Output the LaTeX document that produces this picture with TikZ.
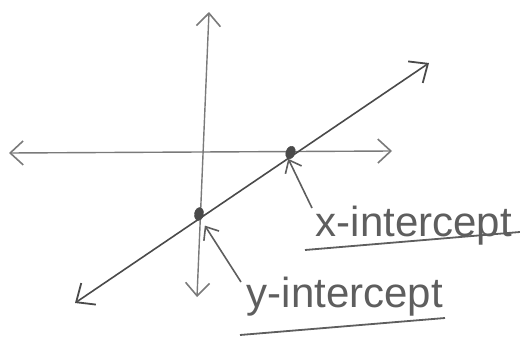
\documentclass[tikz,border=0pt]{standalone}
\usepackage{fontspec}
\setmainfont{Liberation Sans}
\usetikzlibrary{arrows.meta}
\definecolor{axisgray}{HTML}{7A7A7A}
\definecolor{linegray}{HTML}{4A4A4A}
\definecolor{inkgray}{HTML}{5E5E5E}
\tikzset{
  axisline/.style={draw=axisgray, line width=1.4pt, {Straight Barb[length=13pt,width=24pt,line width=1.6pt]}-{Straight Barb[length=13pt,width=24pt,line width=1.6pt]}},
  mainline/.style={draw=linegray, line width=1.6pt, {Straight Barb[length=15pt,width=26pt,line width=1.8pt]}-{Straight Barb[length=15pt,width=26pt,line width=1.8pt]}},
  dotmark/.style={ellipse, fill=linegray, draw=linegray, minimum width=9pt, minimum height=13pt, inner sep=0pt},
  labeltext/.style={text=inkgray, font=\fontsize{42}{46}\selectfont, inner sep=0pt},
  pointer/.style={draw=inkgray, line width=1.6pt, -{Straight Barb[length=11pt,width=18pt,line width=1.6pt]}},
  underline/.style={draw=inkgray, line width=1.8pt}
}
\usetikzlibrary{shapes.geometric}
\begin{document}
\begin{tikzpicture}[x=1pt,y=-1pt]
\useasboundingbox (0,0) rectangle (520,343);
% axis ends
\coordinate (hl) at (9,153);
\coordinate (hr) at (392,151);
\coordinate (vt) at (209,12);
\coordinate (vb) at (197,297);
\coordinate (ll) at (75,303);
\coordinate (lr) at (429,63);
\draw[axisline] (hl) -- (hr);
\draw[axisline] (vb) -- (vt);
\draw[mainline] (ll) -- (lr);
% intercept dots
\node[dotmark, rotate=-20] (xi) at (290.5,152.5) {};
\node[dotmark, rotate=-10] (yi) at (199,214) {};
% labels
\node[labeltext, anchor=base] (xl) at (414,236) {x-intercept};
\node[labeltext, anchor=base] (yl) at (345,307) {y-intercept};
\coordinate (xs) at (312,208);
\coordinate (ys) at (241,282);
\draw[pointer] (xs) -- (xi.south);
\draw[pointer] (ys) -- ([xshift=7pt,yshift=-5pt]yi.south);
% underlines
\coordinate (xu1) at (305,250);
\coordinate (xu2) at (520,232);
\coordinate (yu1) at (240,335);
\coordinate (yu2) at (445,318);
\draw[underline] (xu1) -- (xu2);
\draw[underline] (yu1) -- (yu2);
\end{tikzpicture}
\end{document}
